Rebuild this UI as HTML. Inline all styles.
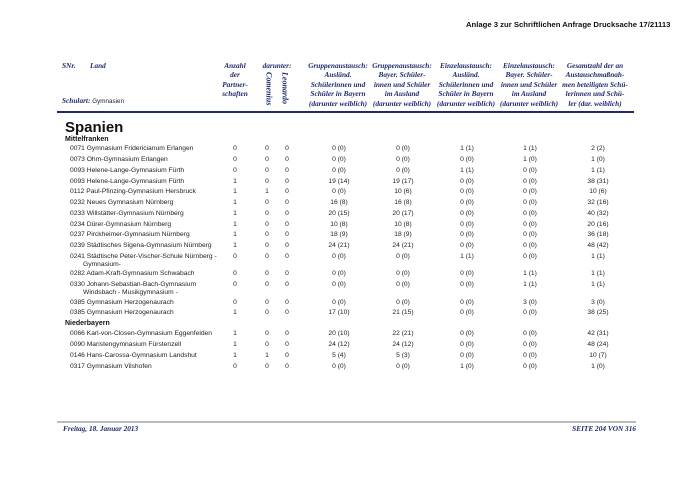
<!DOCTYPE html>
<html><head><meta charset="utf-8"><style>
body{margin:0;width:700px;height:495px;background:#fff;position:relative;overflow:hidden;font-family:"Liberation Sans",sans-serif;}
.a{position:absolute;white-space:nowrap;}
.h{position:absolute;font-family:"Liberation Serif",serif;font-weight:bold;font-style:italic;color:#1f2a6b;font-size:7.3px;line-height:9.4px;text-align:center;white-space:nowrap;}
.r{position:absolute;left:0;width:700px;height:11px;font-size:6.7px;color:#222;}
.r span{position:absolute;top:0;line-height:8px;}
.n{left:70px}
.c{transform:translateX(-50%);}
</style></head><body>
<div class="a" style="left:466px;top:20px;font-size:7.7px;font-weight:bold;color:#111;">Anlage 3 zur Schriftlichen Anfrage Drucksache 17/21113</div>

<div class="h" style="left:62px;top:61px;">SNr.</div>
<div class="h" style="left:90px;top:61px;">Land</div>
<div class="h" style="left:62px;top:96px;">Schulart: <span style="font-family:'Liberation Sans',sans-serif;font-style:normal;font-weight:normal;font-size:6.3px;color:#222;">Gymnasien</span></div>
<div class="h" style="left:215px;top:61px;width:40px;">Anzahl<br>der<br>Partner-<br>schaften</div>
<div class="h" style="left:257px;top:61px;width:40px;">darunter:</div>
<div class="h" style="left:264px;top:72px;writing-mode:vertical-rl;font-size:8px;">Comenius</div>
<div class="h" style="left:280px;top:72px;writing-mode:vertical-rl;font-size:8px;">Leonardo</div>
<div class="h" style="left:298px;top:61px;width:80px;">Gruppenaustausch:<br>Ausländ.<br>Schülerinnen und<br>Schüler in Bayern<br>(darunter weiblich)</div>
<div class="h" style="left:362px;top:61px;width:80px;">Gruppenaustausch:<br>Bayer. Schüler-<br>innen und Schüler<br>im Ausland<br>(darunter weiblich)</div>
<div class="h" style="left:426px;top:61px;width:80px;">Einzelaustausch:<br>Ausländ.<br>Schülerinnen und<br>Schüler in Bayern<br>(darunter weiblich)</div>
<div class="h" style="left:489px;top:61px;width:80px;">Einzelaustausch:<br>Bayer. Schüler-<br>innen und Schüler<br>im Ausland<br>(darunter weiblich)</div>
<div class="h" style="left:555px;top:61px;width:80px;">Gesamtzahl der an<br>Austauschmaßnah-<br>men beteiligten Schü-<br>lerinnen und Schü-<br>ler (dar. weiblich)</div>
<div class="a" style="left:57px;top:111px;width:577px;height:2px;background:#1f2a6b;"></div>

<div class="a" style="left:65px;top:119px;font-size:15px;font-weight:bold;color:#111;">Spanien</div>
<div class="a" style="left:65px;top:136px;font-size:7px;font-weight:bold;color:#111;">Mittelfranken</div>
<div class="a" style="left:65px;top:320px;font-size:7px;font-weight:bold;color:#111;">Niederbayern</div>

<div id="rows"></div>
<script>
var d=[
[145,"0071 Gymnasium Fridericianum Erlangen","0","0","0","0 (0)","0 (0)","1 (1)","1 (1)","2 (2)"],
[156,"0073 Ohm-Gymnasium Erlangen","0","0","0","0 (0)","0 (0)","0 (0)","1 (0)","1 (0)"],
[167,"0093 Helene-Lange-Gymnasium Fürth","0","0","0","0 (0)","0 (0)","1 (1)","0 (0)","1 (1)"],
[178,"0093 Helene-Lange-Gymnasium Fürth","1","0","0","19 (14)","19 (17)","0 (0)","0 (0)","38 (31)"],
[188,"0112 Paul-Pfinzing-Gymnasium Hersbruck","1","1","0","0 (0)","10 (6)","0 (0)","0 (0)","10 (6)"],
[199,"0232 Neues Gymnasium Nürnberg","1","0","0","16 (8)","16 (8)","0 (0)","0 (0)","32 (16)"],
[210,"0233 Willstätter-Gymnasium Nürnberg","1","0","0","20 (15)","20 (17)","0 (0)","0 (0)","40 (32)"],
[221,"0234 Dürer-Gymnasium Nürnberg","1","0","0","10 (8)","10 (8)","0 (0)","0 (0)","20 (16)"],
[231,"0237 Pirckheimer-Gymnasium Nürnberg","1","0","0","18 (9)","18 (9)","0 (0)","0 (0)","36 (18)"],
[242,"0239 Städtisches Sigena-Gymnasium Nürnberg","1","0","0","24 (21)","24 (21)","0 (0)","0 (0)","48 (42)"],
[253,"0241 Städtische Peter-Vischer-Schule Nürnberg -<br>&nbsp;&nbsp;&nbsp;&nbsp;&nbsp;&nbsp;&nbsp;Gymnasium-","0","0","0","0 (0)","0 (0)","1 (1)","0 (0)","1 (1)"],
[270,"0282 Adam-Kraft-Gymnasium Schwabach","0","0","0","0 (0)","0 (0)","0 (0)","1 (1)","1 (1)"],
[281,"0330 Johann-Sebastian-Bach-Gymnasium<br>&nbsp;&nbsp;&nbsp;&nbsp;&nbsp;&nbsp;&nbsp;Windsbach - Musikgymnasium -","0","0","0","0 (0)","0 (0)","0 (0)","1 (1)","1 (1)"],
[299,"0385 Gymnasium Herzogenaurach","0","0","0","0 (0)","0 (0)","0 (0)","3 (0)","3 (0)"],
[309,"0385 Gymnasium Herzogenaurach","1","0","0","17 (10)","21 (15)","0 (0)","0 (0)","38 (25)"],
[330,"0066 Karl-von-Closen-Gymnasium Eggenfelden","1","0","0","20 (10)","22 (21)","0 (0)","0 (0)","42 (31)"],
[341,"0090 Maristengymnasium Fürstenzell","1","0","0","24 (12)","24 (12)","0 (0)","0 (0)","48 (24)"],
[352,"0146 Hans-Carossa-Gymnasium Landshut","1","1","0","5 (4)","5 (3)","0 (0)","0 (0)","10 (7)"],
[363,"0317 Gymnasium Vilshofen","0","0","0","0 (0)","0 (0)","1 (0)","0 (0)","1 (0)"]];
var xs=[235,267,287,339,403,467,530,598],h="";
d.forEach(function(r){
 h+='<div class="r" style="top:'+r[0]+'px"><span class="n">'+r[1]+'</span>';
 for(var i=0;i<8;i++)h+='<span class="c" style="left:'+xs[i]+'px">'+r[i+2]+'</span>';
 h+='</div>';});
document.getElementById('rows').innerHTML=h;
</script>

<div class="a" style="left:57px;top:421px;width:579px;height:2px;background:#bbb;"></div>
<div class="h" style="left:63px;top:424px;font-size:7.3px;">Freitag, 18. Januar 2013</div>
<div class="h" style="right:64px;top:424px;font-size:7.3px;">SEITE 204 VON 316</div>
</body></html>
